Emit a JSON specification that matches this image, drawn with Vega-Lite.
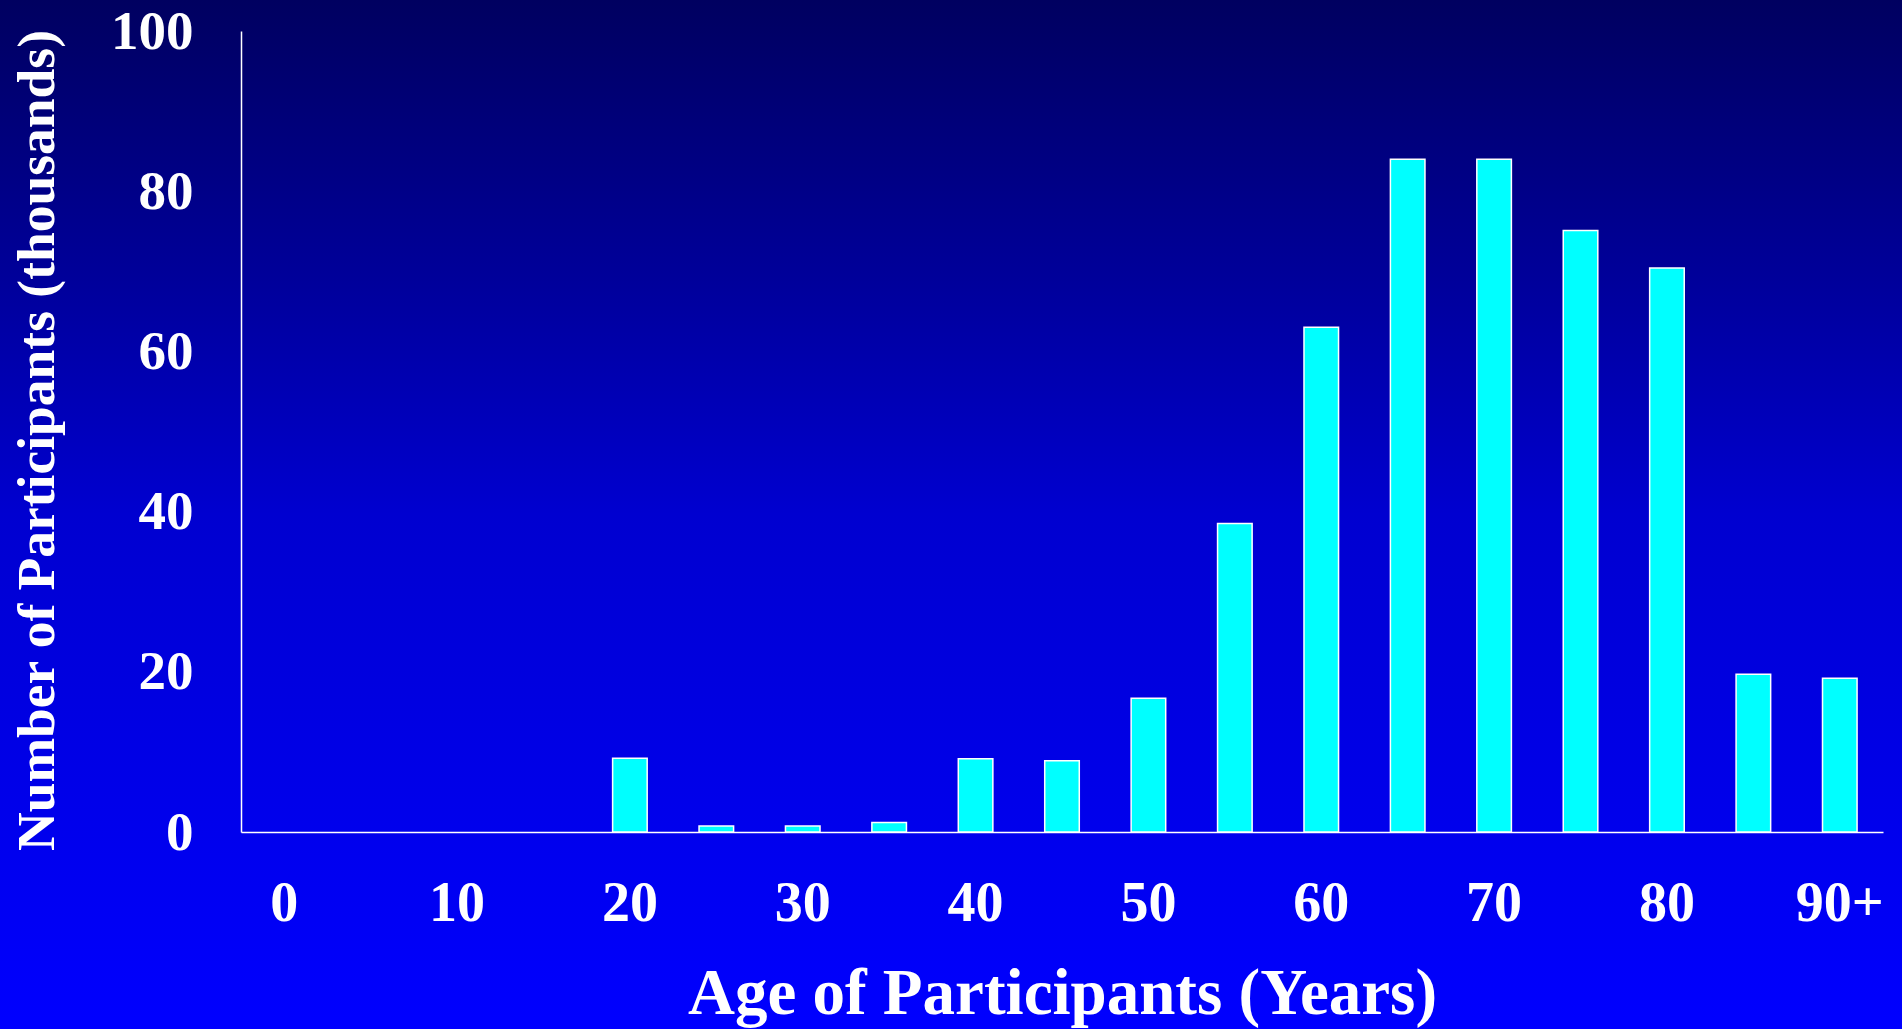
{
  "$schema": "https://vega.github.io/schema/vega-lite/v6.json",
  "width": 1902,
  "height": 1029,
  "autosize": {"type": "none"},
  "padding": 0,
  "background": "#0000B0",
  "view": {
    "stroke": null,
    "fill": {
      "gradient": "linear",
      "x1": 0, "y1": 0, "x2": 0, "y2": 1,
      "stops": [
        {"offset": 0, "color": "#000060"},
        {"offset": 0.27, "color": "#00009A"},
        {"offset": 0.5, "color": "#0000D0"},
        {"offset": 0.8, "color": "#0000EC"},
        {"offset": 1, "color": "#0000FF"}
      ]
    }
  },
  "data": {
    "values": [
      {"age": 20, "participants": 9.2},
      {"age": 25, "participants": 0.75},
      {"age": 30, "participants": 0.75},
      {"age": 35, "participants": 1.2},
      {"age": 40, "participants": 9.15},
      {"age": 45, "participants": 8.9},
      {"age": 50, "participants": 16.7},
      {"age": 55, "participants": 38.5},
      {"age": 60, "participants": 63.0},
      {"age": 65, "participants": 84.0},
      {"age": 70, "participants": 84.0},
      {"age": 75, "participants": 75.1},
      {"age": 80, "participants": 70.4},
      {"age": 85, "participants": 19.7},
      {"age": 90, "participants": 19.2}
    ]
  },
  "mark": {"type": "bar", "color": "#00FFFF", "stroke": "#FFFFFF", "strokeWidth": 1.5},
  "encoding": {
    "x": {
      "field": "age",
      "type": "ordinal",
      "scale": {
        "domain": [0, 5, 10, 15, 20, 25, 30, 35, 40, 45, 50, 55, 60, 65, 70, 75, 80, 85, 90],
        "range": [241, 1883],
        "paddingInner": 0.6,
        "paddingOuter": 0.3
      },
      "axis": {
        "title": "Age of Participants (Years)",
        "orient": "bottom",
        "offset": -197,
        "values": [0, 10, 20, 30, 40, 50, 60, 70, 80, 90],
        "labelExpr": "datum.value == 90 ? '90+' : datum.label",
        "labelAngle": 0,
        "labelFont": "Liberation Serif",
        "labelFontWeight": "bold",
        "labelFontSize": 56,
        "labelColor": "#FFFFFF",
        "labelBaseline": "alphabetic",
        "labelPadding": 88,
        "ticks": false,
        "tickSize": 0,
        "domainColor": "#FFFFFF",
        "domainWidth": 1.5,
        "grid": false,
        "titleFont": "Liberation Serif",
        "titleFontWeight": "bold",
        "titleFontSize": 65,
        "titleColor": "#FFFFFF",
        "titleBaseline": "alphabetic",
        "titleAlign": "center",
        "titleX": 1062,
        "titleY": 181
      }
    },
    "y": {
      "field": "participants",
      "type": "quantitative",
      "scale": {"domain": [0, 100], "range": [832, 31], "nice": false, "zero": true},
      "axis": {
        "title": "Number of Participants (thousands)",
        "orient": "left",
        "offset": -241,
        "values": [0, 20, 40, 60, 80, 100],
        "labelFont": "Liberation Serif",
        "labelFontWeight": "bold",
        "labelFontSize": 55,
        "labelColor": "#FFFFFF",
        "labelPadding": 48,
        "labelBaseline": "middle",
        "ticks": false,
        "tickSize": 0,
        "domainColor": "#FFFFFF",
        "domainWidth": 1.5,
        "grid": false,
        "titleFont": "Liberation Serif",
        "titleFontWeight": "bold",
        "titleFontSize": 53.5,
        "titleColor": "#FFFFFF",
        "titleAngle": -90,
        "titleBaseline": "alphabetic",
        "titleAlign": "center",
        "titleX": -188,
        "titleY": 440
      }
    }
  }
}
